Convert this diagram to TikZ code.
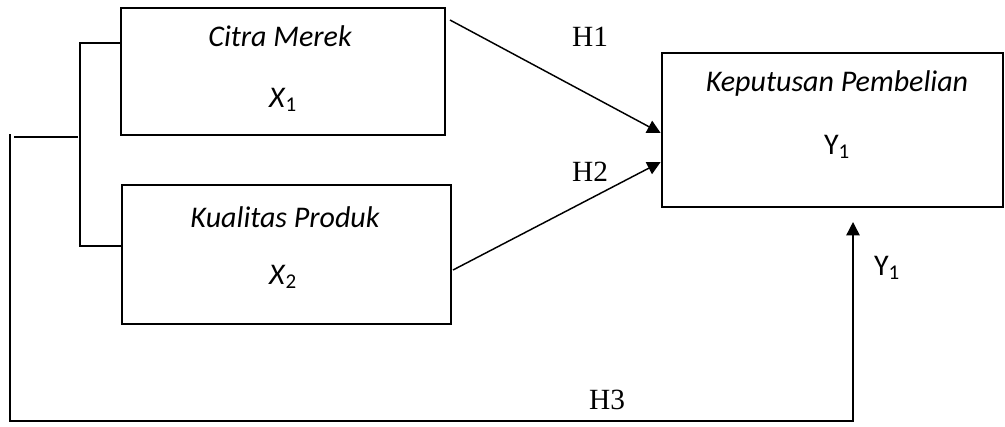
\documentclass[tikz,border=0pt]{standalone}
\usepackage{fontspec}
\setmainfont{Carlito}
\newfontfamily\hfont{Liberation Serif}
\usetikzlibrary{arrows.meta}

\begin{document}
\begin{tikzpicture}[x=0.75pt, y=-0.75pt,
    >={Triangle[length=10pt, width=10pt]},
    box/.style={draw, line width=2pt, minimum width=#1},
    txt/.style={font=\fontsize{22.5}{26}\selectfont, inner sep=0pt},
    hyp/.style={font=\hfont\fontsize{22}{26}\selectfont, inner sep=0pt},
    link/.style={line width=1.1pt}]
  \useasboundingbox (0,0) rectangle (1005,426);
  % the three variables
  \node[box=243pt, minimum height=95.25pt] (cm) at (283,71.5) {};
  \node[box=246.75pt, minimum height=104.25pt] (kp) at (286.5,254.5) {};
  \node[box=255.75pt, minimum height=115.5pt] (kb) at (832.5,130) {};
  \node[txt] (cmname) at (280,36) {\itshape Citra Merek};
  \node[txt] (cmvar) at (283,100) {\textit{X}\textsubscript{1}};
  \node[txt] (kpname) at (285,217) {\itshape Kualitas Produk};
  \node[txt] (kpvar) at (283,277) {\textit{X}\textsubscript{2}};
  \node[txt] (kbname) at (837,83) {\itshape Keputusan Pembelian};
  \node[txt] (kbvar) at (837,147) {Y\textsubscript{1}};
  % hypothesis labels
  \node[hyp] (h1) at (590,37) {H1};
  \node[hyp] (h2) at (590,172) {H2};
  \node[hyp] (h3) at (607,400) {H3};
  \node[txt] (yout) at (887,268) {Y\textsubscript{1}};
  % bracket joining X1 and X2
  \coordinate (bt) at (80,43);
  \coordinate (bb) at (80,246);
  \coordinate (bm) at (78,137);
  \coordinate (lm) at (14,137);
  \coordinate (lt) at (10,134);
  \coordinate (lb) at (10,421);
  \coordinate (rb) at (853,421);
  \coordinate (tip) at (853,222);
  \coordinate (s1) at (450,20);
  \coordinate (s2) at (453,270);
  \draw[link] (cm.west |- bt) -- (bt) -- (bb) -- (kp.west |- bb);
  \draw[link] (bm) -- (lm);
  % arrows
  \draw[link, ->] (s1) -- ([yshift=-2.25pt]kb.west);
  \draw[link, ->] (s2) -- ([yshift=-24pt]kb.west);
  \draw[link, ->] (lt) -- (lb) -- (rb) -- (tip);
\end{tikzpicture}
\end{document}
